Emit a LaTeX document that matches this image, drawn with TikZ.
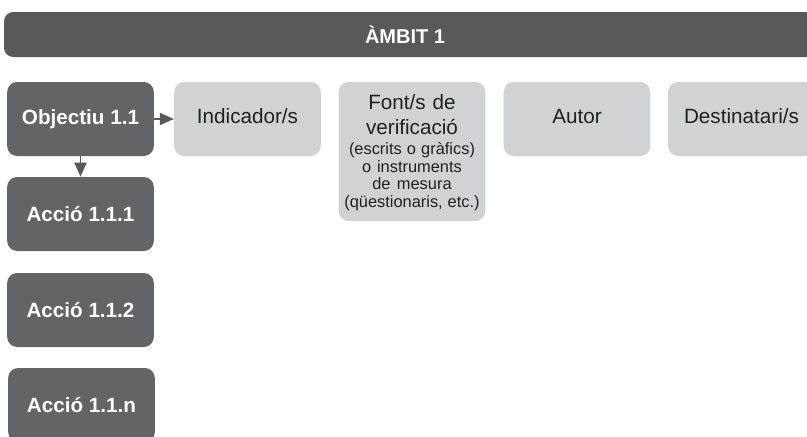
\documentclass[tikz,border=0pt]{standalone}
\usepackage{fontspec}
\setmainfont{Liberation Sans}
\usepackage{tikz}
\usetikzlibrary{arrows.meta}
\definecolor{bannergray}{HTML}{58595B}
\definecolor{boxdark}{HTML}{636466}
\definecolor{boxlight}{HTML}{D1D2D4}
\definecolor{textblack}{HTML}{231F20}
\newcommand{\bigtxt}{\fontsize{15.5}{17.25}\selectfont}
\newcommand{\smalltxt}{\fontsize{12.3}{13.1}\selectfont\spaceskip=0pt}
\tikzset{every node/.style={font=\bigtxt}}

\begin{document}
\begin{tikzpicture}[x=0.75pt,y=-0.75pt,
    darkbox/.style={fill=boxdark, rounded corners=7.5pt, minimum width=110pt,
        minimum height=55.5pt, text=white, font=\bfseries\bigtxt},
    lightbox/.style={fill=boxlight, rounded corners=7.5pt, minimum width=110pt,
        minimum height=55.5pt, text=textblack, align=center,
        text height=11pt, text depth=5pt},
    link/.style={draw=bannergray, line width=1.3pt, -{Triangle[length=10.5pt,width=9pt]}}]
    \useasboundingbox (0,0) rectangle (807,436);
    \begin{scope}
        \clip (0,0) rectangle (807,436);

        % banner
        \fill [bannergray, rounded corners=7pt] (4,12) rectangle (840,57);
        \node [text=white, font=\bfseries\fontsize{15}{18}\selectfont] (ambit) at (405,34.5) {ÀMBIT 1};

        % objective and actions
        \node [darkbox] (obj) at (80.5,119) {Objectiu 1.1};
        \node [darkbox] (acc1) at (80.5,214) {Acció 1.1.1};
        \node [darkbox] (acc2) at (80.5,310) {Acció 1.1.2};
        \node [darkbox] (accn) at (81.5,405) {Acció 1.1.n};

        % columns
        \node [lightbox] (ind) at (247.5,119) {Indicador/s};
        \node [lightbox, minimum height=104.25pt] (font) at (412,151.5) {};
        \node [anchor=north, inner sep=0pt, text width=110pt, align=center, text=textblack] (fonttext) at (412,94)
            {{\bigtxt Font/s de\\[1.5pt]verificació\par}
             \vspace{2.25pt}
             {\smalltxt (escrits o gràfics)\\o instruments\\de mesura\\(qüestionaris, etc.)\par}};
        \node [lightbox] (autor) at (577,119) {Autor};
        \node [lightbox] (dest) at (741.5,119) {Destinatari/s};

        \draw [link] (obj) -- (ind);
        \draw [link] (obj) -- (acc1);
    \end{scope}
\end{tikzpicture}
\end{document}
